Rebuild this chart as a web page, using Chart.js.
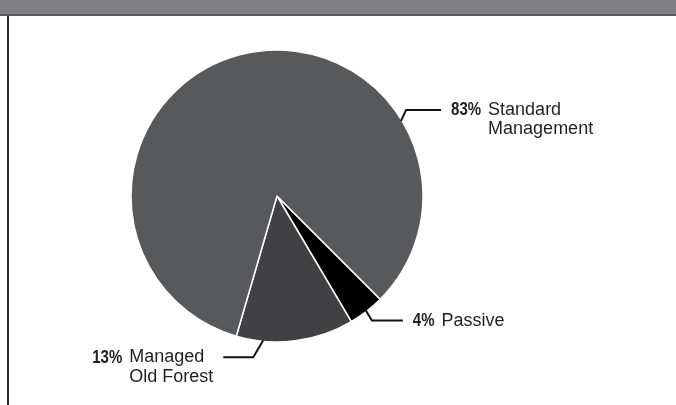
<!DOCTYPE html>
<html>
<head>
<meta charset="utf-8">
<script src="https://cdn.jsdelivr.net/npm/chart.js@4"></script>
<style>
  html, body { margin: 0; padding: 0; background: #fff; }
  #wrap { position: relative; width: 676px; height: 405px; overflow: hidden; }
  #bar { position: absolute; left: 0; top: 0; width: 676px; height: 14px; background: #808082; border-bottom: 2px solid #5a5a5c; }
  #frame { position: absolute; left: 7px; top: 16px; width: 700px; height: 400px; border-left: 2px solid #2b2b2b; }
  #pie { position: absolute; left: 0; top: 0; }
</style>
</head>
<body>
<div id="wrap">
  <div id="bar"></div>
  <div id="frame"></div>
  <canvas id="pie" width="676" height="405"></canvas>
</div>
<script>
// data
const categories = ["Passive", "Managed Old Forest", "Standard Management"];
const shares = [4, 13, 83];
const pctLabels = ["4%", "13%", "83%"];
const nameLines = [["Passive"], ["Managed", "Old Forest"], ["Standard", "Management"]];

const sliceColors = ["#000000", "#414042", "#58595b"];

// where each leader line leaves its slice (fraction along the arc) and how it bends
const leaders = [
  { frac: 0.5,  dx: 6,   dy: 10,  len: 31,  side: "right" },
  { frac: 0.77, dx: -10, dy: 17,  len: 30,  side: "left" },
  { frac: 0.745, dx: 5,  dy: -11, len: 35,  side: "right" }
];

// condensed bold for the percentages: squeeze a normal bold face
const pctFont = "bold 19px 'Liberation Sans', Arial, sans-serif";
const pctSqueeze = 0.79;
const nameFont = "18px 'Liberation Sans', Arial, sans-serif";
const lineStep = 19.5;

const calloutPlugin = {
  id: "callouts",
  afterDatasetsDraw(chart) {
    const ctx = chart.ctx;
    const arcs = chart.getDatasetMeta(0).data;
    ctx.save();
    arcs.forEach((arc, i) => {
      const L = leaders[i];
      const a = arc.startAngle + L.frac * (arc.endAngle - arc.startAngle);
      const x0 = arc.x + Math.cos(a) * (arc.outerRadius - 1);
      const y0 = arc.y + Math.sin(a) * (arc.outerRadius - 1);
      const x1 = x0 + L.dx, y1 = y0 + L.dy;
      const x2 = L.side === "right" ? x1 + L.len : x1 - L.len;

      ctx.strokeStyle = "#111";
      ctx.lineWidth = 2;
      ctx.beginPath();
      ctx.moveTo(x0, y0);
      ctx.lineTo(x1, y1);
      ctx.lineTo(x2, y1);
      ctx.stroke();

      // text block
      ctx.font = pctFont;
      const pw = ctx.measureText(pctLabels[i]).width * pctSqueeze;
      ctx.font = nameFont;
      const nw = Math.max(...nameLines[i].map(t => ctx.measureText(t).width));
      const gap = 7;
      const blockW = pw + gap + nw;
      const bx = L.side === "right" ? x2 + 10 : x2 - 10 - blockW;

      ctx.fillStyle = "#231f20";
      ctx.textBaseline = "middle";
      ctx.textAlign = "left";

      ctx.save();
      ctx.font = pctFont;
      ctx.translate(bx, y1);
      ctx.scale(pctSqueeze, 1);
      ctx.fillText(pctLabels[i], 0, 0);
      ctx.restore();

      ctx.font = nameFont;
      nameLines[i].forEach((t, k) => {
        ctx.fillText(t, bx + pw + gap, y1 + k * lineStep);
      });
    });
    ctx.restore();
  }
};

const pieChart = new Chart(document.getElementById("pie"), {
  type: "pie",
  data: {
    labels: categories,
    datasets: [{
      data: shares,
      backgroundColor: sliceColors,
      borderColor: "#ffffff",
      borderWidth: 1.5
    }]
  },
  options: {
    responsive: false,
    animation: false,
    devicePixelRatio: 1,
    rotation: 135,
    radius: 146,
    layout: { padding: { left: 131, right: 253, top: 50, bottom: 63 } },
    plugins: {
      legend: { display: false },
      tooltip: { enabled: false }
    }
  },
  plugins: [calloutPlugin]
});
</script>
</body>
</html>
